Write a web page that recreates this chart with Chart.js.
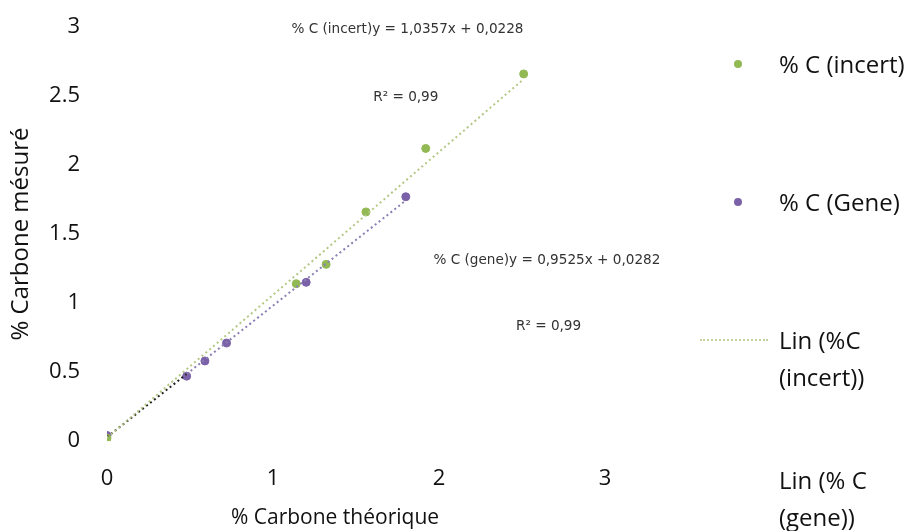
<!DOCTYPE html>
<html>
<head>
<meta charset="utf-8">
<script src="https://cdn.jsdelivr.net/npm/chart.js@4.4.1/dist/chart.umd.min.js"></script>
<style>
  body { margin: 0; background: #fff; font-family: "Open Sans", sans-serif; }
  #wrap { position: relative; width: 909px; height: 531px; }
  .leg { position: absolute; left: 779px; font-size: 24px; line-height: 37px; color: #111; white-space: nowrap; }
  .dot { position: absolute; width: 8px; height: 8px; border-radius: 50%; }
  .dash { position: absolute; left: 700px; width: 68px; border-top: 2px dotted #c3d19a; }
</style>
</head>
<body>
<div id="wrap">
  <canvas id="chartCarbone" width="909" height="531"></canvas>
  <div class="dot" style="left:734px;top:60px;background:#93b954"></div>
  <div class="leg" style="top:45px">% C (incert)</div>
  <div class="dot" style="left:734px;top:198px;background:#7b62a8"></div>
  <div class="leg" style="top:183px">% C (Gene)</div>
  <div class="dash" style="top:339px"></div>
  <div class="leg" style="top:321px">Lin (%C<br>(incert))</div>
  <div class="leg" style="top:461px">Lin (% C<br>(gene))</div>
</div>
<script>
// % C théorique vs mesuré
const incertX = [0, 1.14, 1.32, 1.56, 1.92, 2.51];
const incertY = [0.02, 1.14, 1.28, 1.66, 2.12, 2.66];
const geneX = [0, 0.48, 0.59, 0.72, 1.20, 1.80];
const geneY = [0.04, 0.47, 0.58, 0.71, 1.15, 1.77];

// régressions linéaires (Excel)
const incertFit = { slope: 1.0357, intercept: 0.0228 };
const geneFit = { slope: 0.9525, intercept: 0.0282 };

const xTicks = [0, 1, 2, 3];
const yTicks = [0, 0.5, 1, 1.5, 2, 2.5, 3];

const eqLabels = [
  { text: "% C (incert)y = 1,0357x + 0,0228", x: 1.81, y: 2.98 },
  { text: "R² = 0,99", x: 1.80, y: 2.49 },
  { text: "% C (gene)y = 0,9525x + 0,0282", x: 2.65, y: 1.31 },
  { text: "R² = 0,99", x: 2.66, y: 0.83 },
];

const toPts = (xs, ys) => xs.map((x, i) => ({ x, y: ys[i] }));
const fitLine = (fit, xs) => xs.map((x) => ({ x, y: fit.slope * x + fit.intercept }));

const eqPlugin = {
  id: "eqLabels",
  afterDatasetsDraw(chart) {
    const { ctx, scales } = chart;
    ctx.save();
    ctx.font = "13.6px 'DejaVu Sans'";
    ctx.fillStyle = "#333";
    ctx.textAlign = "center";
    ctx.textBaseline = "middle";
    eqLabels.forEach((l) => ctx.fillText(l.text, scales.x.getPixelForValue(l.x), scales.y.getPixelForValue(l.y)));
    ctx.restore();
  },
};

Chart.defaults.font.family = "'Open Sans', sans-serif";
Chart.defaults.color = "#111";

new Chart(document.getElementById("chartCarbone"), {
  type: "scatter",
  data: {
    datasets: [
      { label: "Lin (%C (incert))", data: fitLine(incertFit, [0, incertX[incertX.length - 1]]), showLine: true, pointRadius: 0, borderColor: "#b3c884", borderWidth: 2, borderDash: [2, 3] },
      { label: "Lin (% C (gene))", data: fitLine(geneFit, [0, geneX[1], geneX[geneX.length - 1]]), showLine: true, pointRadius: 0, borderWidth: 2, borderDash: [2, 3],
        borderColor: "#8a7db3", segment: { borderColor: (c) => (c.p0DataIndex === 0 ? "#222" : "#8a7db3") } },
      { label: "% C (incert)", data: toPts(incertX, incertY), backgroundColor: "#93b954", borderColor: "#93b954", pointRadius: 4 },
      { label: "% C (Gene)", data: toPts(geneX, geneY), backgroundColor: "#7b62a8", borderColor: "#7b62a8", pointRadius: 4 },
    ],
  },
  options: {
    responsive: false,
    animation: false,
    locale: "en-US",
    layout: { padding: { top: 27, right: 304, left: 0, bottom: 0 } },
    plugins: { legend: { display: false }, tooltip: { enabled: false } },
    scales: {
      x: {
        min: 0, max: 3,
        afterFit: (s) => { s.height = 90; },
        afterBuildTicks: (s) => { s.ticks = xTicks.map((v) => ({ value: v })); },
        grid: { display: false, drawTicks: false },
        border: { display: false },
        ticks: { padding: 25, font: { size: 22 }, color: "#111", callback: (v) => String(v) },
        // espaces finales : le titre est décalé vers la gauche comme dans Excel
        title: { display: true, text: "% Carbone théorique\u2003\u2003", font: { size: 21 }, color: "#111", padding: { top: 0, bottom: 0 } },
      },
      y: {
        min: 0, max: 3,
        afterFit: (s) => { s.width = 107; },
        afterBuildTicks: (s) => { s.ticks = yTicks.map((v) => ({ value: v })); },
        // écart des libellés porté par tickLength (graduations masquées) pour ne pas gonfler la marge haute
        grid: { display: false, drawTicks: true, tickLength: 25 },
        border: { display: false },
        ticks: { padding: 2, font: { size: 22 }, color: "#111", callback: (v) => String(v) },
        title: { display: true, text: "% Carbone mésuré", font: { size: 24 }, color: "#111", padding: { top: 7, bottom: 0 } },
      },
    },
  },
  plugins: [eqPlugin],
});
</script>
</body>
</html>
